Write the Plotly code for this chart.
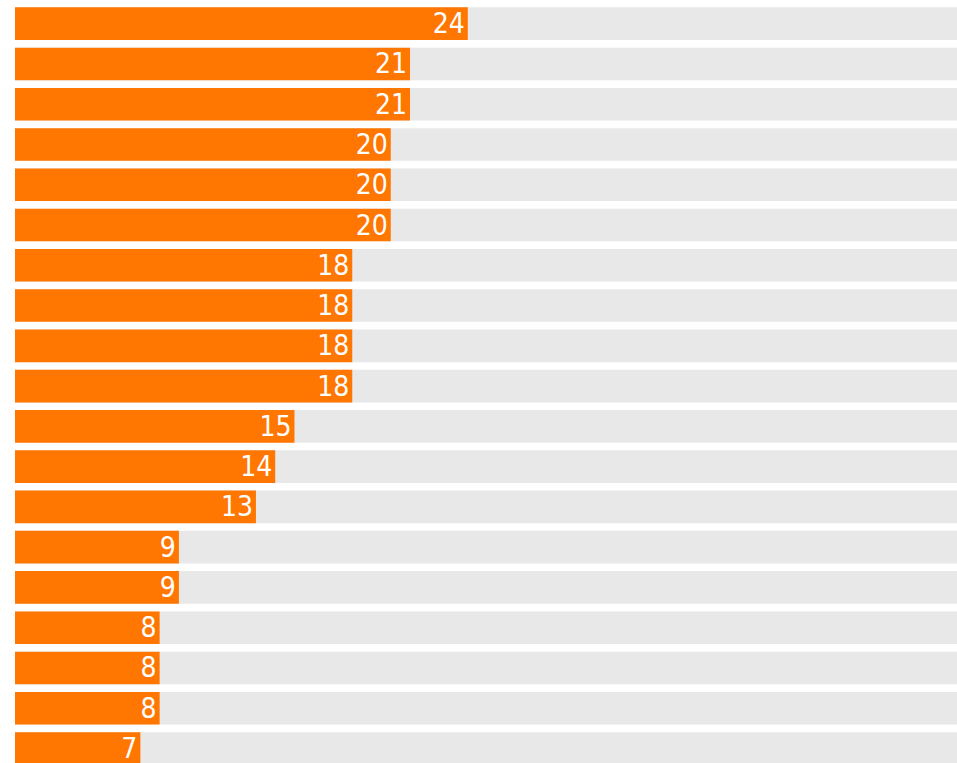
import plotly.graph_objects as go

# Data (top to bottom)
ranks = [str(i) for i in range(1, 20)]
values = [24, 21, 21, 20, 20, 20, 18, 18, 18, 18, 15, 14, 13, 9, 9, 8, 8, 8, 7]
track_max = 50
tracks = [track_max] * len(values)
labels = [str(v) for v in values]

ORANGE = "#FF7600"
GREY = "#E8E8E8"

fig = go.Figure()
fig.add_trace(go.Bar(
    y=ranks, x=tracks, orientation="h",
    marker=dict(color=GREY, line=dict(width=0)),
    hoverinfo="skip", showlegend=False,
))
fig.add_trace(go.Bar(
    y=ranks, x=values, orientation="h",
    marker=dict(color=ORANGE, line=dict(width=0)),
    text=labels, textposition="inside", insidetextanchor="end",
    constraintext="none", textangle=0,
    textfont=dict(family="DejaVu Sans Condensed", size=28, color="white"),
    showlegend=False,
))

fig.update_layout(
    width=957, height=763,
    margin=dict(l=15, r=0, t=0, b=0),
    paper_bgcolor="white", plot_bgcolor="white",
    barmode="overlay", bargap=0.19,
    xaxis=dict(range=[0.49, 49.4], visible=False, showgrid=False, zeroline=False),
    yaxis=dict(type="category", categoryorder="array", categoryarray=ranks,
               range=[18.36, -0.588], visible=False, showgrid=False, zeroline=False),
)

fig.write_html("out.html",
               config={"displayModeBar": False},
               post_script="document.body.style.margin='0';document.body.style.overflow='hidden';")
